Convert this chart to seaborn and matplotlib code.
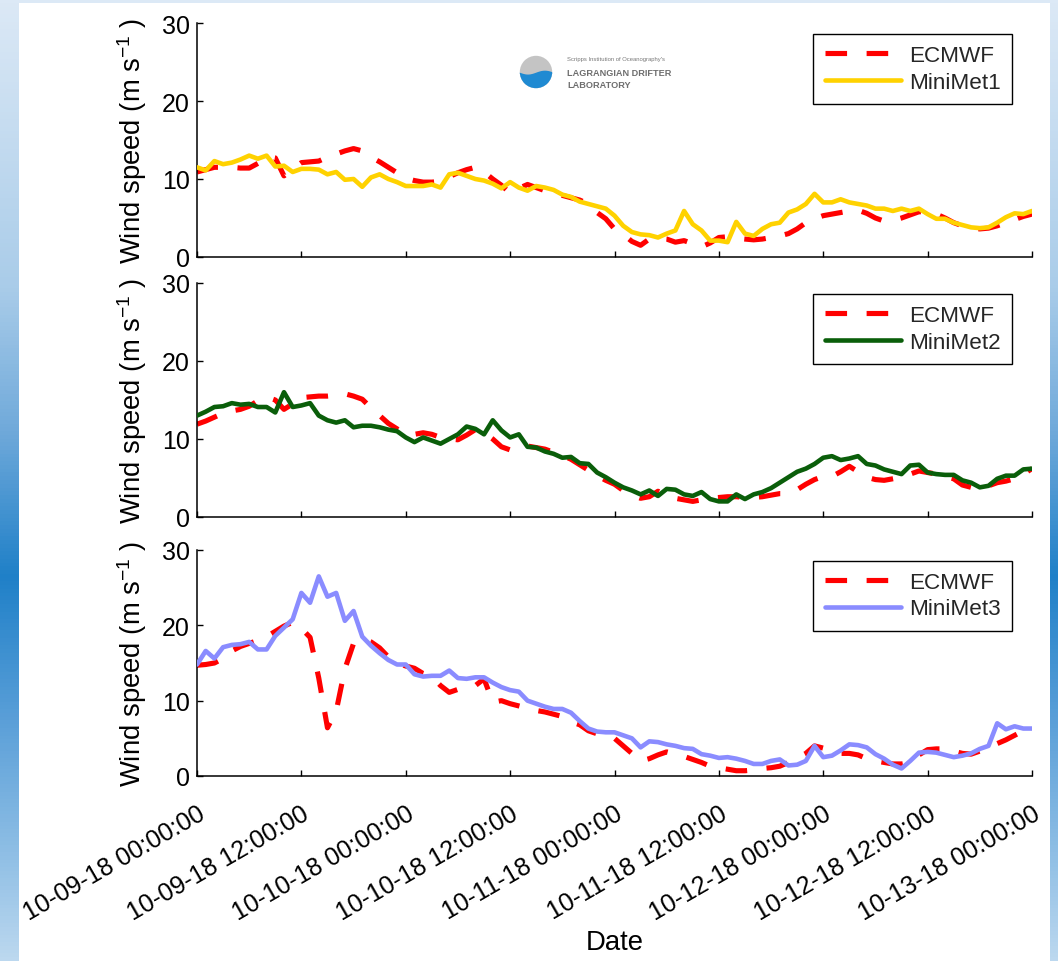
import numpy as np
import pandas as pd
import matplotlib
matplotlib.use("Agg")
import matplotlib.pyplot as plt
import matplotlib.dates as mdates
from matplotlib.colors import LinearSegmentedColormap
from matplotlib.patches import Circle, Rectangle
import seaborn as sns

# ---------------- data (hourly, starting 2018-10-09 00:00) ----------------
start_time = "2018-10-09 00:00"
end_time = "2018-10-13 00:00"

ecmwf_1 = [10.9, 11.2, 11.5, 11.5, 11.5, 11.4, 11.4, 12.0, 12.9, 12.7,
           10.4, 11.3, 12.1, 12.2, 12.3, 12.8, 13.2, 13.6, 13.9, 13.6,
           12.8, 12.2, 11.5, 10.8, 10.1, 9.8, 9.6, 9.6, 9.7, 10.3,
           10.8, 11.2, 11.5, 10.9, 10.0, 9.2, 8.2, 8.8, 9.3, 8.9,
           8.5, 8.2, 7.9, 7.6, 7.3, 6.8, 5.7, 4.9, 3.6, 2.9,
           2.0, 1.5, 2.3, 2.4, 2.3, 1.9, 2.1, 1.7, 1.3, 1.8,
           2.5, 2.6, 2.4, 2.3, 2.2, 2.3, 2.5, 2.7, 3.0, 3.6,
           4.4, 4.9, 5.3, 5.5, 5.7, 5.9, 6.0, 5.6, 5.0, 4.6,
           4.7, 5.0, 5.4, 5.8, 5.8, 5.5, 5.0, 4.4, 4.0, 3.7,
           3.6, 3.7, 4.0, 4.4, 4.8, 5.2, 5.5]
minimet_1 = [11.5, 11.1, 12.3, 11.9, 12.1, 12.5, 13.0, 12.6, 13.0, 11.6,
             11.7, 10.9, 11.3, 11.3, 11.2, 10.6, 10.9, 9.9, 10.0, 9.0,
             10.2, 10.6, 10.0, 9.6, 9.1, 9.1, 9.1, 9.3, 8.9, 10.6,
             10.8, 10.4, 10.0, 9.8, 9.4, 8.8, 9.6, 8.9, 8.5, 9.1,
             8.9, 8.6, 8.0, 7.7, 7.1, 6.8, 6.5, 6.2, 5.3, 4.0,
             3.2, 2.9, 2.8, 2.5, 3.0, 3.4, 5.9, 4.2, 3.4, 2.1,
             2.1, 1.9, 4.5, 3.0, 2.7, 3.6, 4.2, 4.4, 5.7, 6.1,
             6.8, 8.1, 7.0, 7.0, 7.4, 7.0, 6.8, 6.6, 6.2, 6.2,
             5.9, 6.2, 5.9, 6.2, 5.5, 4.9, 4.9, 4.4, 4.1, 3.8,
             3.7, 3.8, 4.4, 5.1, 5.6, 5.5, 5.9]

ecmwf_2 = [11.9, 12.3, 12.8, 13.3, 13.6, 13.8, 14.2, 14.9, 15.4, 15.0,
           13.8, 14.5, 15.3, 15.4, 15.5, 15.5, 15.6, 15.8, 15.5, 15.1,
           14.0, 13.0, 12.0, 11.3, 10.5, 10.6, 10.8, 10.6, 10.2, 10.0,
           9.9, 10.5, 11.2, 10.8, 10.0, 9.0, 8.6, 8.8, 9.1, 8.9,
           8.7, 8.3, 7.9, 7.4, 6.7, 6.0, 5.3, 4.7, 4.2, 3.4,
           2.8, 2.4, 2.6, 3.3, 2.9, 2.4, 2.2, 2.0, 2.2, 2.4,
           2.5, 2.6, 2.6, 2.5, 2.5, 2.6, 2.8, 3.0, 3.0, 3.5,
           4.2, 4.8, 5.2, 5.2, 5.8, 6.5, 5.8, 5.1, 4.8, 4.7,
           4.9, 5.1, 5.5, 5.9, 5.7, 5.5, 5.2, 4.9, 4.1, 3.8,
           3.6, 4.0, 4.4, 4.6, 4.9, 5.5, 6.2]
minimet_2 = [13.0, 13.5, 14.1, 14.2, 14.6, 14.4, 14.5, 14.1, 14.1, 13.4,
             16.0, 14.1, 14.3, 14.6, 13.0, 12.4, 12.1, 12.4, 11.5, 11.7,
             11.7, 11.5, 11.2, 11.0, 10.2, 9.6, 10.2, 9.8, 9.4, 10.0,
             10.6, 11.6, 11.3, 10.6, 12.4, 11.1, 10.2, 10.6, 9.0, 8.9,
             8.4, 8.1, 7.6, 7.7, 6.9, 6.8, 5.7, 5.1, 4.4, 3.8,
             3.4, 2.9, 3.4, 2.7, 3.6, 3.5, 2.9, 2.7, 3.2, 2.3,
             2.0, 2.0, 2.9, 2.3, 2.9, 3.2, 3.7, 4.4, 5.1, 5.8,
             6.2, 6.8, 7.6, 7.8, 7.3, 7.5, 7.8, 6.8, 6.6, 6.1,
             5.8, 5.5, 6.6, 6.7, 5.7, 5.5, 5.4, 5.4, 4.7, 4.4,
             3.8, 4.0, 4.9, 5.3, 5.3, 6.1, 6.2]

ecmwf_3 = [14.7, 14.8, 15.0, 15.6, 16.6, 17.2, 17.6, 18.0, 18.5, 19.2,
           19.9, 20.4, 19.6, 18.4, 13.0, 6.4, 8.6, 14.2, 17.6, 18.2,
           17.8, 17.0, 15.8, 15.0, 14.6, 14.3, 13.6, 13.2, 12.0, 11.1,
           11.5, 11.8, 12.0, 12.9, 9.8, 10.0, 9.6, 9.3, 9.0, 8.7,
           8.5, 8.2, 7.9, 7.2, 6.8, 6.0, 5.6, 5.3, 5.0, 4.0,
           3.0, 2.0, 2.3, 2.8, 3.2, 2.9, 2.6, 2.2, 1.8, 1.3,
           1.1, 0.9, 0.7, 0.7, 0.8, 1.0, 1.1, 1.3, 1.8, 2.4,
           3.0, 4.0, 3.7, 3.2, 3.0, 3.0, 2.8, 2.3, 2.0, 1.8,
           1.6, 1.6, 1.8, 2.8, 3.5, 3.6, 3.6, 3.3, 3.0, 2.9,
           3.3, 3.8, 4.3, 4.8, 5.4, 6.0, 6.3]
minimet_3 = [14.8, 16.6, 15.6, 17.1, 17.4, 17.5, 17.8, 16.8, 16.8, 18.6,
             19.7, 20.8, 24.3, 23.0, 26.5, 23.8, 24.3, 20.6, 21.9, 18.5,
             17.3, 16.3, 15.4, 14.8, 14.8, 13.5, 13.2, 13.3, 13.3, 14.0,
             13.0, 12.9, 13.1, 13.1, 12.4, 11.8, 11.4, 11.2, 10.0, 9.6,
             9.2, 8.9, 8.9, 8.4, 7.3, 6.3, 5.9, 5.8, 5.8, 5.4,
             5.0, 3.8, 4.6, 4.5, 4.2, 4.0, 3.7, 3.6, 2.9, 2.7,
             2.4, 2.5, 2.3, 2.0, 1.6, 1.6, 2.0, 2.2, 1.4, 1.5,
             2.0, 4.0, 2.5, 2.7, 3.4, 4.2, 4.1, 3.8, 2.9, 2.3,
             1.5, 1.0, 2.0, 3.1, 3.2, 3.1, 2.8, 2.5, 2.7, 3.0,
             3.6, 4.0, 7.0, 6.2, 6.6, 6.3, 6.3]

ecmwf_series = [ecmwf_1, ecmwf_2, ecmwf_3]
minimet_series = [minimet_1, minimet_2, minimet_3]
minimet_labels = ["MiniMet1", "MiniMet2", "MiniMet3"]
minimet_colors = ["#ffd200", "#0a5e0a", "#8a8cff"]
ecmwf_label = "ECMWF"
y_ticks = [0, 10, 20, 30]
ylabel_text = "Wind speed (m s$^{-1}$ )"
xlabel_text = "Date"

# ---------------- style ----------------
sns.set_theme(style="ticks")
plt.rcParams["font.family"] = ["Liberation Sans", "DejaVu Sans"]
plt.rcParams["mathtext.fontset"] = "custom"
plt.rcParams["mathtext.rm"] = "Liberation Sans"
plt.rcParams["mathtext.it"] = "Liberation Sans:italic"
plt.rcParams["mathtext.default"] = "regular"

W, H = 1058, 962
fig = plt.figure(figsize=(W / 100, H / 100), dpi=100)

# background: blue gradient frame with white page
bg = fig.add_axes([0, 0, 1, 1], zorder=-10)
cmap_bg = LinearSegmentedColormap.from_list(
    "bg", [(0.0, "#dce9f6"), (0.3, "#a9cce9"), (0.45, "#6fa9da"),
           (0.6, "#1f80c8"), (0.75, "#5a9fd8"), (0.9, "#93c1e6"),
           (1.0, "#bcd8ef")])
grad = np.linspace(0, 1, 256).reshape(-1, 1)
bg.imshow(grad, aspect="auto", cmap=cmap_bg, extent=[0, 1, 0, 1], origin="upper")
bg.add_patch(Rectangle((19 / W, 0), (1050 - 19) / W, 1 - 4 / H,
                       transform=bg.transAxes, facecolor="white", edgecolor="none"))
bg.set_xlim(0, 1)
bg.set_ylim(0, 1)
bg.axis("off")

times = pd.date_range(start_time, end_time, freq="h")

panels = [(24, 258), (284, 518), (551, 777)]
left_px, right_px = 197, 1032
axes = []
for i, (top, bot) in enumerate(panels):
    ax = fig.add_axes([left_px / W, 1 - bot / H, (right_px - left_px) / W, (bot - top) / H])
    ax.set_facecolor("none")
    sns.lineplot(x=times, y=ecmwf_series[i], ax=ax, color="#ff0000", lw=3.7,
                 linestyle=(0, (4.2, 3.8)), label=ecmwf_label, zorder=2)
    sns.lineplot(x=times, y=minimet_series[i], ax=ax, color=minimet_colors[i], lw=3.3,
                 label=minimet_labels[i], zorder=3)
    ax.set_xlim(pd.Timestamp(start_time), pd.Timestamp(end_time))
    ax.set_ylim(0, 30)
    ax.set_yticks(y_ticks)
    ax.xaxis.set_major_locator(mdates.HourLocator(byhour=[0, 12]))
    ax.xaxis.set_major_formatter(mdates.DateFormatter("%m-%d-%y %H:%M:%S"))
    for s in ["top", "right"]:
        ax.spines[s].set_visible(False)
    for s in ["left", "bottom"]:
        ax.spines[s].set_color("black")
        ax.spines[s].set_linewidth(1.1)
    ax.tick_params(axis="both", direction="in", length=4.5, width=1.0, color="black",
                   labelsize=18, labelcolor="black")
    ax.tick_params(axis="y", pad=5)
    ax.set_ylabel(ylabel_text, fontsize=19.8, color="black")
    ax.yaxis.set_label_coords(-0.058, 0.5)
    ax.set_xlabel("")
    leg = ax.legend(loc="upper right", bbox_to_anchor=(0.976, 0.953), borderaxespad=0,
                    fontsize=16.2, frameon=True, fancybox=False, framealpha=1,
                    edgecolor="black", handlelength=3.4, handletextpad=0.35,
                    borderpad=0.5, labelspacing=0.25)
    leg.get_frame().set_linewidth(1.0)
    if i < 2:
        ax.tick_params(axis="x", labelbottom=False)
    axes.append(ax)

ax3 = axes[2]
ax3.tick_params(axis="x", pad=18)
for lbl in ax3.get_xticklabels():
    lbl.set_rotation(30)
    lbl.set_ha("right")
    lbl.set_va("top")
    lbl.set_rotation_mode("anchor")
ax3.set_xlabel(xlabel_text, fontsize=19.8, color="black")
ax3.xaxis.set_label_coords(0.5, -0.675)

# logo (Lagrangian Drifter Laboratory)
logo = fig.add_axes([519 / W, 1 - 90 / H, 34 / W, 34 / H])
logo.set_xlim(-1.05, 1.05)
logo.set_ylim(-1.05, 1.05)
logo.set_aspect("equal")
logo.axis("off")
sphere = Circle((0, 0), 1, facecolor="#c4c4c4", edgecolor="none")
logo.add_patch(sphere)
wx = np.linspace(-1.1, 1.1, 100)
wave = -0.05 + 0.12 * np.sin(wx * 3.0)
fb = logo.fill_between(wx, -1.2, wave, color="#1f8ad2")
fb.set_clip_path(sphere)
fig.text(567 / W, 1 - 60 / H, "Scripps Institution of Oceanography's", fontsize=4.2,
         color="#777777", va="center", ha="left")
fig.text(567 / W, 1 - 73 / H, "LAGRANGIAN DRIFTER", fontsize=6.6, fontweight="bold",
         color="#6e6e6e", va="center", ha="left")
fig.text(567 / W, 1 - 86 / H, "LABORATORY", fontsize=6.6, fontweight="bold",
         color="#6e6e6e", va="center", ha="left")

fig.savefig("out.png", dpi=100)
